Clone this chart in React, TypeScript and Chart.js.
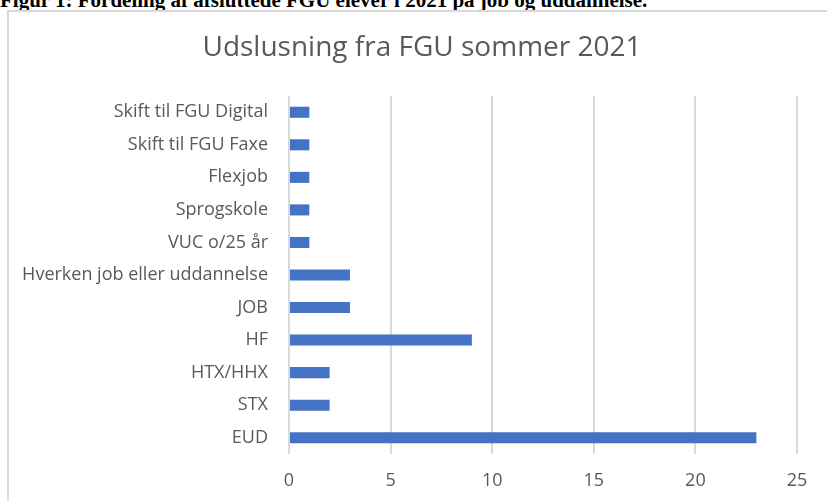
import React, { useEffect, useRef } from "react";
import { Chart, registerables } from "chart.js";

Chart.register(...registerables);

const caption = "Figur 1: Fordeling af afsluttede FGU elever i 2021 på job og uddannelse.";
const chartTitle = "Udslusning fra FGU sommer 2021";
const categories = [
  "Skift til FGU Digital",
  "Skift til FGU Faxe",
  "Flexjob",
  "Sprogskole",
  "VUC o/25 år",
  "Hverken job eller uddannelse",
  "JOB",
  "HF",
  "HTX/HHX",
  "STX",
  "EUD",
];
const values = [1, 1, 1, 1, 1, 3, 3, 9, 2, 2, 23];
const xTicks = [0, 5, 10, 15, 20, 25];

const FONT = "'Open Sans', 'DejaVu Sans', sans-serif";
const GREY = "#595959";

const titlePlugin = {
  id: "centeredTitle",
  afterDraw(chart: any) {
    const ctx = chart.ctx;
    ctx.save();
    ctx.fillStyle = GREY;
    ctx.font = `normal 28px ${FONT}`;
    ctx.textAlign = "center";
    ctx.textBaseline = "middle";
    ctx.fillText(chartTitle, 422, 48);
    ctx.restore();
  },
};

export default function App() {
  const ref = useRef<HTMLCanvasElement | null>(null);

  useEffect(() => {
    if (!ref.current) return;
    const chart = new Chart(ref.current, {
      type: "bar",
      data: {
        labels: categories,
        datasets: [
          {
            data: values,
            backgroundColor: "#4472c4",
            borderWidth: 0,
            barPercentage: 0.34,
            categoryPercentage: 1,
          },
        ],
      },
      plugins: [titlePlugin],
      options: {
        indexAxis: "y",
        animation: false,
        responsive: false,
        maintainAspectRatio: false,
        layout: { padding: { left: 10, right: 30, top: 96, bottom: 0 } },
        plugins: {
          legend: { display: false },
          tooltip: { enabled: false },
          title: { display: false },
        },
        scales: {
          x: {
            min: 0,
            max: 25,
            afterBuildTicks: (scale: any) => {
              scale.ticks = xTicks.map((v) => ({ value: v }));
            },
            afterFit: (scale: any) => {
              scale.height = 47;
            },
            grid: { color: "#d9d9d9", lineWidth: 2, drawTicks: false },
            border: { display: false },
            ticks: {
              color: GREY,
              font: { family: FONT, size: 18 },
              padding: 16,
            },
          },
          y: {
            afterFit: (scale: any) => {
              scale.width = 279;
            },
            grid: { display: false, drawTicks: false },
            border: { display: false },
            ticks: {
              color: GREY,
              font: { family: FONT, size: 18 },
              padding: 21,
              autoSkip: false,
            },
          },
        },
      },
    });
    return () => chart.destroy();
  }, []);

  return (
    <div
      style={{
        position: "absolute",
        left: 0,
        top: 0,
        width: 827,
        height: 501,
        overflow: "hidden",
        background: "#fff",
      }}
    >
      <div
        style={{
          position: "absolute",
          left: 0,
          top: -12,
          fontFamily: "'Liberation Serif', serif",
          fontWeight: "bold",
          fontSize: 21,
          whiteSpace: "nowrap",
          color: "#000",
        }}
      >
        {caption}
      </div>
      <div
        style={{
          position: "absolute",
          left: 7,
          top: 10,
          width: 840,
          height: 520,
          border: "2px solid #d9d9d9",
          boxSizing: "border-box",
        }}
      />
      <canvas
        ref={ref}
        width={827}
        height={501}
        style={{ position: "absolute", left: 0, top: 0, width: 827, height: 501 }}
      />
    </div>
  );
}
